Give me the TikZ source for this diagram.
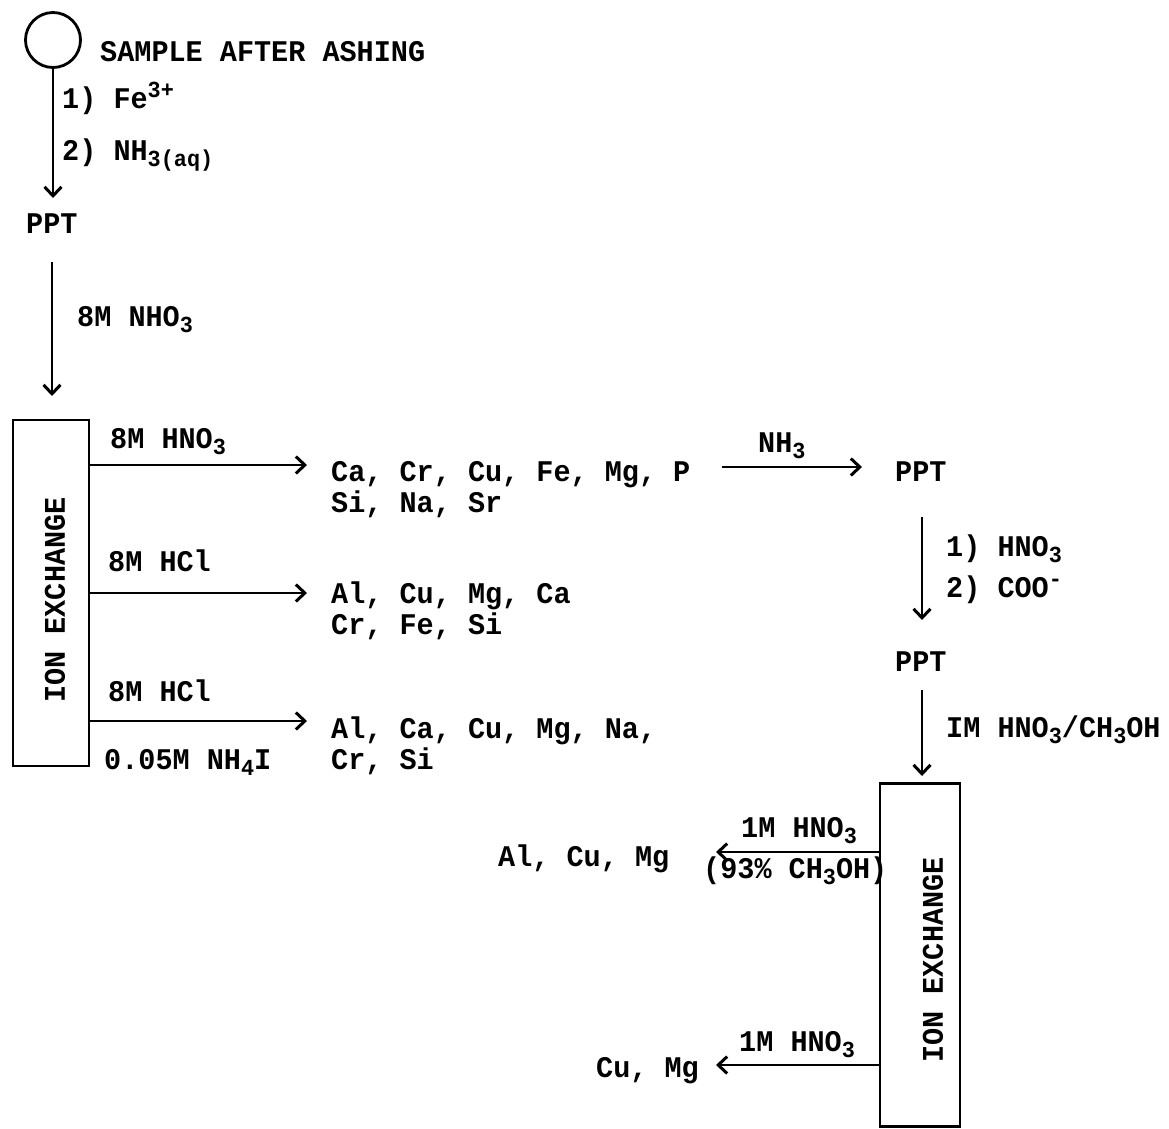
\documentclass[tikz,border=0pt]{standalone}
\usepackage{fontspec}
\setmainfont[FakeStretch=0.95,UprightFont={* Bold},BoldFont={* Bold}]{Liberation Mono}
\usetikzlibrary{arrows.meta}
\newcommand\sbs[1]{\raisebox{-0.42ex}{\fontsize{23}{23}\selectfont #1}}
\newcommand\sps[1]{\raisebox{0.65ex}{\fontsize{23}{23}\selectfont #1}}
\begin{document}
\begin{tikzpicture}[x=1pt,y=-1pt,
 txt/.style={anchor=base west,inner sep=0pt,font=\fontsize{30}{32}\selectfont},
 rtxt/.style={rotate=90,inner sep=0pt,font=\fontsize{30}{32}\selectfont},
 arr/.style={line width=2.7pt,-{Straight Barb[length=9pt,width=17pt,line width=3pt]}},
 box/.style={draw,line width=2.8pt,inner sep=0pt},
]
\useasboundingbox[fill=white] (0,0) rectangle (1169,1128);
% top
\node[draw,circle,line width=2.8pt,minimum size=55pt,inner sep=0pt] (c) at (53,40) {};
\node[txt] (sample) at (100,61) {SAMPLE AFTER ASHING};
\node[txt] (r1) at (62,108) {1) Fe\sps{3+}};
\node[txt] (r2) at (62,160) {2) NH\sbs{3(aq)}};
\node[txt] (ppt1) at (26,233) {PPT};
\coordinate (e1) at (53,198);
\draw[arr] (c.south) -- (e1);
% to ion exchange 1
\coordinate (s2) at (52,262);
\coordinate (e2) at (52,396);
\draw[arr] (s2) -- (e2);
\node[txt] (l2) at (77,326) {8M NHO\sbs{3}};
% box 1
\node[box,minimum width=76pt,minimum height=346pt] (box1) at (51,593) {};
\node[rtxt] (bt1) at (55,600) {ION EXCHANGE};
% outputs of box 1
\coordinate (a1) at (307,465);
\coordinate (a2) at (307,593);
\coordinate (a3) at (307,721);
\draw[arr] (box1.east |- a1) -- (a1);
\draw[arr] (box1.east |- a2) -- (a2);
\draw[arr] (box1.east |- a3) -- (a3);
\node[txt] (l31) at (110,448) {8M HNO\sbs{3}};
\node[txt] (l32) at (108,571) {8M HCl};
\node[txt] (l33) at (108,701) {8M HCl};
\node[txt] (l34) at (104,769) {0.05M NH\sbs{4}I};
\node[txt] (o1a) at (331,481) {Ca, Cr, Cu, Fe, Mg, P};
\node[txt] (o1b) at (331,512) {Si, Na, Sr};
\node[txt] (o2a) at (331,603) {Al, Cu, Mg, Ca};
\node[txt] (o2b) at (331,634) {Cr, Fe, Si};
\node[txt] (o3a) at (331,738) {Al, Ca, Cu, Mg, Na,};
\node[txt] (o3b) at (331,769) {Cr, Si};
% NH3 step
\coordinate (n1) at (722,467);
\coordinate (n2) at (862,467);
\draw[arr] (n1) -- (n2);
\node[txt] (nh3) at (758,452) {NH\sbs{3}};
\node[txt] (ppt2) at (895,481) {PPT};
\coordinate (p1) at (922,517);
\coordinate (p2) at (922,620);
\draw[arr] (p1) -- (p2);
\node[txt] (h1) at (946,556) {1) HNO\sbs{3}};
\node[txt] (h2) at (946,597) {2) COO\sps{-}};
\node[txt] (ppt3) at (895,671) {PPT};
\coordinate (q1) at (922,690);
\coordinate (q2) at (922,776);
\draw[arr] (q1) -- (q2);
\node[txt] (im) at (946,737) {IM HNO\sbs{3}/CH\sbs{3}OH};
% box 2
\node[box,minimum width=80pt,minimum height=343pt] (box2) at (920,955) {};
\node[rtxt] (bt2) at (933,960) {ION EXCHANGE};
\coordinate (b1) at (716,852);
\coordinate (b2) at (716,1065);
\draw[arr] (box2.west |- b1) -- (b1);
\draw[arr] (box2.west |- b2) -- (b2);
\node[txt] (m1) at (741,837) {1M HNO\sbs{3}};
\node[txt] (m2) at (703,878) {(93\% CH\sbs{3}OH)};
\node[txt] (m3) at (739,1051) {1M HNO\sbs{3}};
\node[txt] (f1) at (498,866) {Al, Cu, Mg};
\node[txt] (f2) at (596,1077) {Cu, Mg};
\end{tikzpicture}
\end{document}
